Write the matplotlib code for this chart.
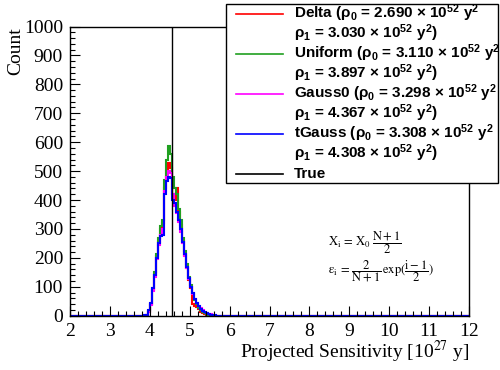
import numpy as np
import matplotlib
matplotlib.use("Agg")
import matplotlib.pyplot as plt
from matplotlib.patches import Rectangle
from matplotlib.ticker import MultipleLocator

plt.rcParams['font.family'] = ['Liberation Serif', 'DejaVu Serif']
plt.rcParams['mathtext.fontset'] = 'custom'
plt.rcParams['mathtext.rm'] = 'Liberation Sans:bold'
plt.rcParams['mathtext.it'] = 'Liberation Sans:bold'
plt.rcParams['mathtext.bf'] = 'Liberation Sans:bold'

# histogram binning: 0.05 wide bins over 2..12, non-zero part starts at 3.85
bin_width = 0.05
first_edge = 3.85

delta = [0, 3, 14, 40, 90, 140, 205, 255, 300, 320, 440, 500, 528, 510, 420, 400,
         442, 360, 315, 260, 210, 165, 125, 95, 40, 35, 30, 22, 14, 9, 6, 3, 2, 1,
         0, 0, 0]
uniform = [0, 3, 15, 42, 95, 150, 215, 270, 310, 330, 470, 540, 588, 560, 480, 440,
           420, 370, 330, 270, 225, 180, 135, 105, 78, 55, 40, 28, 19, 13, 8, 5, 3, 2,
           1, 0, 0]
gauss0 = [1, 3, 12, 38, 85, 135, 195, 245, 280, 300, 430, 480, 500, 495, 420, 380,
          355, 325, 290, 250, 205, 165, 128, 98, 75, 58, 45, 33, 25, 18, 13, 10, 7, 5,
          3, 1, 0]
tgauss = [1, 4, 18, 45, 95, 140, 200, 250, 275, 280, 420, 465, 478, 476, 400, 390,
          360, 330, 300, 255, 215, 170, 130, 100, 78, 58, 45, 32, 24, 17, 12, 9, 6, 4,
          2, 1, 0]
true_value = 4.556

legend_lines = [
    "Delta (\u03c1$_0$ = 2.690 \u00d7 10$^{52}$ y$^2$",
    "\u03c1$_1$ = 3.030 \u00d7 10$^{52}$ y$^2$)",
    "Uniform (\u03c1$_0$ = 3.110 \u00d7 10$^{52}$ y$^2$",
    "\u03c1$_1$ = 3.897 \u00d7 10$^{52}$ y$^2$)",
    "Gauss0 (\u03c1$_0$ = 3.298 \u00d7 10$^{52}$ y$^2$",
    "\u03c1$_1$ = 4.367 \u00d7 10$^{52}$ y$^2$)",
    "tGauss (\u03c1$_0$ = 3.308 \u00d7 10$^{52}$ y$^2$",
    "\u03c1$_1$ = 4.308 \u00d7 10$^{52}$ y$^2$)",
    "True",
]
series = [(delta, "#ff0000"), (uniform, "#20a020"), (gauss0, "#ff00ff"), (tgauss, "#0000ff")]

edges = np.round(np.arange(2.0, 12.0 + 1e-9, bin_width), 4)
n_bins = len(edges) - 1
start = int(round((first_edge - 2.0) / bin_width))


def full_counts(vals):
    c = np.zeros(n_bins)
    c[start:start + len(vals)] = vals
    return c


W, H = 500, 370
fig = plt.figure(figsize=(5, 3.7), dpi=100)


def fx(px):
    return px / W


def fy(py):
    return 1 - py / H


ax = fig.add_axes([fx(70), fy(315.7), (469 - 70) / W, (315.7 - 26.5) / H])

for vals, col in series:
    ax.stairs(full_counts(vals), edges, color=col, lw=1.5)
ax.plot([true_value, true_value], [0, 1000], color="black", lw=1.0)

ax.set_xlim(2, 12)
ax.set_ylim(0, 1000)
ax.xaxis.set_major_locator(MultipleLocator(1))
ax.xaxis.set_minor_locator(MultipleLocator(0.2))
ax.yaxis.set_major_locator(MultipleLocator(100))
ax.yaxis.set_minor_locator(MultipleLocator(20))
ax.tick_params(which="both", direction="in", top=False, right=False, labelsize=14, pad=5)
ax.tick_params(which="major", length=7, width=0.8)
ax.tick_params(which="minor", length=3.5, width=0.8)
for s in ax.spines.values():
    s.set_linewidth(1.0)

fig.text(fx(16), fy(27), "Count", rotation=90, ha="center", va="top", fontsize=14)
fig.text(fx(469), fy(352), "Projected Sensitivity [10$^{27}$ y]", ha="right", va="center",
         fontsize=14, math_fontfamily="stix")

# formulas
fig.text(fx(328), fy(243), r"$\mathrm{X_i\,=\,X_0\;\dfrac{N+1}{2}}$", ha="left", va="center",
         fontsize=9, math_fontfamily="stix")
fig.text(fx(328), fy(271), r"$\mathrm{\varepsilon_i\,=\,\dfrac{2}{N+1}\,exp(\dfrac{i-1}{2})}$",
         ha="left", va="center", fontsize=9, math_fontfamily="stix")

# legend box
fig.patches.append(Rectangle((fx(226), fy(183)), (498 - 226) / W, (183 - 3.5) / H,
                             transform=fig.transFigure, fill=True, facecolor="white",
                             edgecolor="black", lw=1.0, zorder=5))
legend_cols = [c for _, c in series] + ["black"]
for k, col in enumerate(legend_cols):
    y = 13.7 + 40 * k
    fig.add_artist(plt.Line2D([fx(236), fx(283)], [fy(y), fy(y)], color=col, lw=1.2,
                              transform=fig.transFigure, zorder=6))
for k, txt in enumerate(legend_lines):
    fig.text(fx(294), fy(18.3 + 20 * k), txt, ha="left", va="baseline", fontsize=11,
             family="Liberation Sans", weight="bold", zorder=7)

fig.savefig("out.png", dpi=100)
